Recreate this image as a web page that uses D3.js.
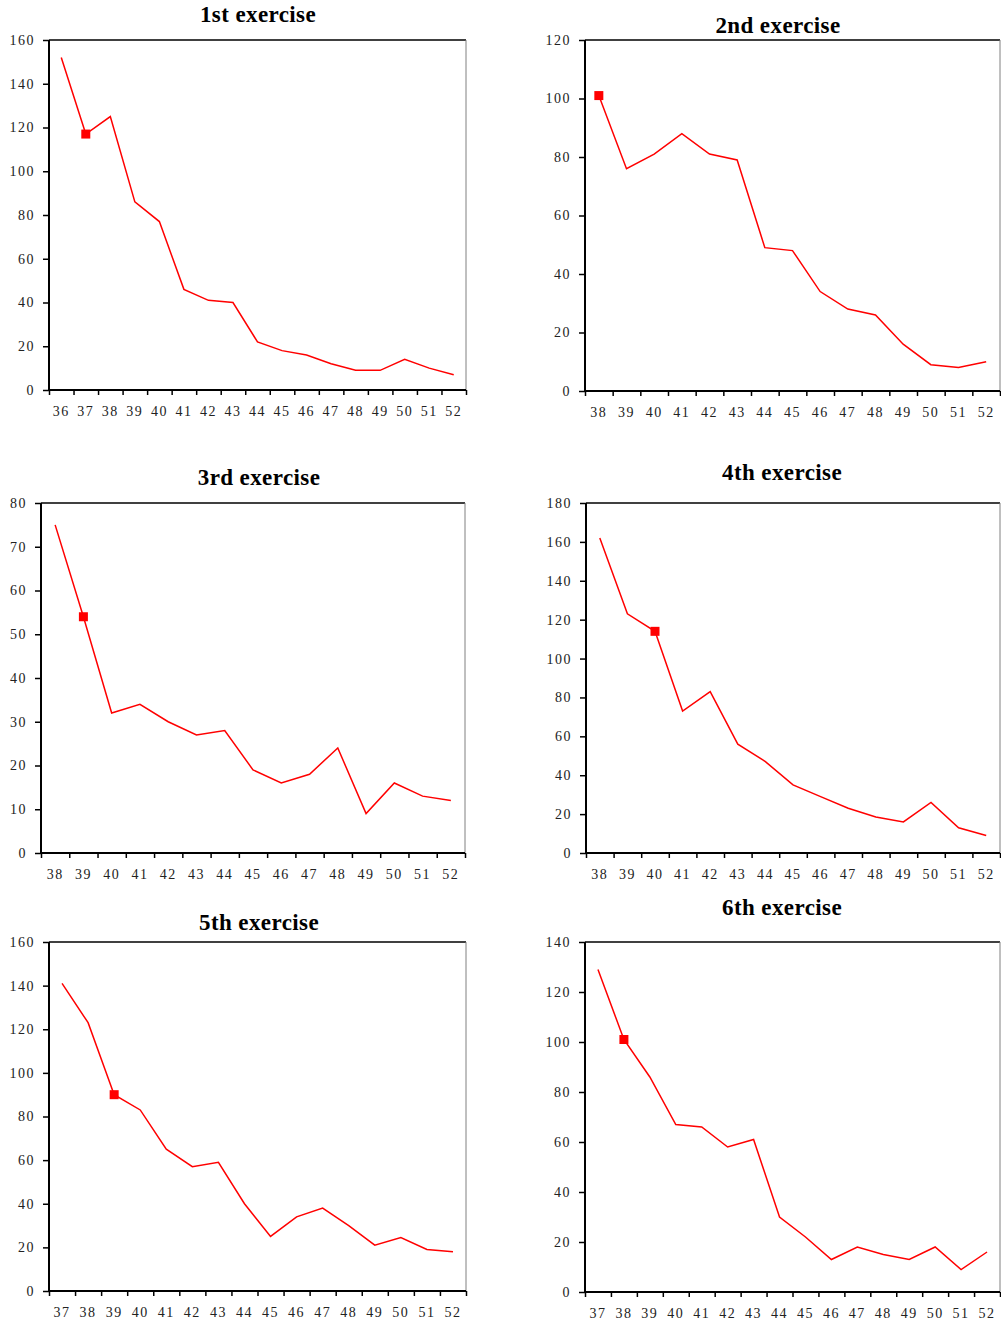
<!DOCTYPE html>
<html>
<head>
<meta charset="utf-8">
<script src="https://cdn.jsdelivr.net/npm/d3@7"></script>
<style>
  body { margin: 0; background: #fff; }
  svg { display: block; }
  .tick text { font-family: "Liberation Serif", "Times New Roman", serif; font-size: 14px; letter-spacing: 1.5px; fill: #222; }
  .title { font-family: "Liberation Serif", "Times New Roman", serif; font-weight: bold; font-size: 23px; letter-spacing: 0.4px; }
</style>
</head>
<body>
<svg id="chart" width="1001" height="1323"></svg>
<script>
// week numbers on the x axis
var weeks1 = ["36","37","38","39","40","41","42","43","44","45","46","47","48","49","50","51","52"];
var weeks2 = ["38","39","40","41","42","43","44","45","46","47","48","49","50","51","52"];
var weeks3 = ["38","39","40","41","42","43","44","45","46","47","48","49","50","51","52"];
var weeks4 = ["38","39","40","41","42","43","44","45","46","47","48","49","50","51","52"];
var weeks5 = ["37","38","39","40","41","42","43","44","45","46","47","48","49","50","51","52"];
var weeks6 = ["37","38","39","40","41","42","43","44","45","46","47","48","49","50","51","52"];

// values
var values1 = [152, 117, 125, 86, 77, 46, 41, 40, 22, 18, 16, 12, 9, 9, 14, 10, 7];
var values2 = [101, 76, 81, 88, 81, 79, 49, 48, 34, 28, 26, 16, 9, 8, 10];
var values3 = [75, 54, 32, 34, 30, 27, 28, 19, 16, 18, 24, 9, 16, 13, 12];
var values4 = [162, 123, 114, 73, 83, 56, 47, 35, 29, 23, 18.5, 16, 26, 13, 9];
var values5 = [141, 123, 90, 83, 65, 57, 59, 40, 25, 34, 38, 30, 21, 24.5, 19, 18];
var values6 = [129, 101, 86, 67, 66, 58, 61, 30, 22, 13, 18, 15, 13, 18, 9, 16];

// the highlighted week in each exercise
var marked = ["37", "38", "39", "40", "39", "38"];

var titles = ["1st exercise", "2nd exercise", "3rd exercise", "4th exercise", "5th exercise", "6th exercise"];
var yMax = [160, 120, 80, 180, 160, 140];
var yStep = [20, 20, 10, 20, 20, 20];

var panels = [
  { left: 49,  top: 40,  right: 466,  bottom: 390,  tx: 258, ty: 22,  weeks: weeks1, values: values1 },
  { left: 585, top: 40,  right: 1000, bottom: 391,  tx: 778, ty: 33,  weeks: weeks2, values: values2 },
  { left: 41,  top: 503, right: 465,  bottom: 853,  tx: 259, ty: 485, weeks: weeks3, values: values3 },
  { left: 586, top: 503, right: 1000, bottom: 853,  tx: 782, ty: 480, weeks: weeks4, values: values4 },
  { left: 49,  top: 942, right: 466,  bottom: 1291, tx: 259, ty: 930, weeks: weeks5, values: values5 },
  { left: 585, top: 942, right: 1000, bottom: 1292, tx: 782, ty: 915, weeks: weeks6, values: values6 }
];

var svg = d3.select("#chart");

panels.forEach(function (p, i) {
  var g = svg.append("g");

  var x = d3.scaleBand().domain(p.weeks).range([p.left, p.right]).padding(0);
  var y = d3.scaleLinear().domain([0, yMax[i]]).range([p.bottom, p.top]);
  var edges = d3.scaleLinear().domain([0, p.weeks.length]).range([p.left, p.right]);

  g.append("text").attr("class", "title")
    .attr("x", p.tx).attr("y", p.ty)
    .attr("text-anchor", "middle")
    .text(titles[i]);

  // y axis
  var yAxis = d3.axisLeft(y)
    .tickValues(d3.range(0, yMax[i] + 1, yStep[i]))
    .tickSize(6).tickSizeOuter(0).tickPadding(8);
  var ya = g.append("g").attr("transform", "translate(" + p.left + ",0)").call(yAxis);
  ya.select(".domain").remove();
  ya.selectAll("line").attr("stroke", "#000").attr("stroke-width", 1.5);

  // x axis boundary ticks
  var xt = g.append("g").attr("transform", "translate(0," + p.bottom + ")")
    .call(d3.axisBottom(edges).tickValues(d3.range(p.weeks.length + 1)).tickFormat("").tickSize(5).tickSizeOuter(0));
  xt.select(".domain").remove();
  xt.selectAll("line").attr("stroke", "#000").attr("stroke-width", 1.5);

  // x labels at category centres
  var xl = g.append("g").attr("transform", "translate(0," + p.bottom + ")")
    .call(d3.axisBottom(x).tickSize(0).tickPadding(16));
  xl.select(".domain").remove();

  // frame
  g.append("line").attr("x1", p.left).attr("x2", p.right).attr("y1", p.top).attr("y2", p.top)
    .attr("stroke", "#000").attr("stroke-width", 1.5);
  g.append("line").attr("x1", p.right).attr("x2", p.right).attr("y1", p.top).attr("y2", p.bottom)
    .attr("stroke", "#808080").attr("stroke-width", 1);
  g.append("line").attr("x1", p.left).attr("x2", p.left).attr("y1", p.top).attr("y2", p.bottom + 1)
    .attr("stroke", "#000").attr("stroke-width", 2);
  g.append("line").attr("x1", p.left - 1).attr("x2", p.right).attr("y1", p.bottom).attr("y2", p.bottom)
    .attr("stroke", "#000").attr("stroke-width", 2);

  var line = d3.line()
    .x(function (d, k) { return x(p.weeks[k]) + x.bandwidth() / 2; })
    .y(function (d) { return y(d); });

  g.append("path").datum(p.values)
    .attr("d", line)
    .attr("fill", "none")
    .attr("stroke", "#ff0000")
    .attr("stroke-width", 1.5);

  var k = p.weeks.indexOf(marked[i]);
  g.append("rect")
    .attr("x", x(marked[i]) + x.bandwidth() / 2 - 4.5)
    .attr("y", y(p.values[k]) - 4.5)
    .attr("width", 9).attr("height", 9)
    .attr("fill", "#ff0000");
});
</script>
</body>
</html>
